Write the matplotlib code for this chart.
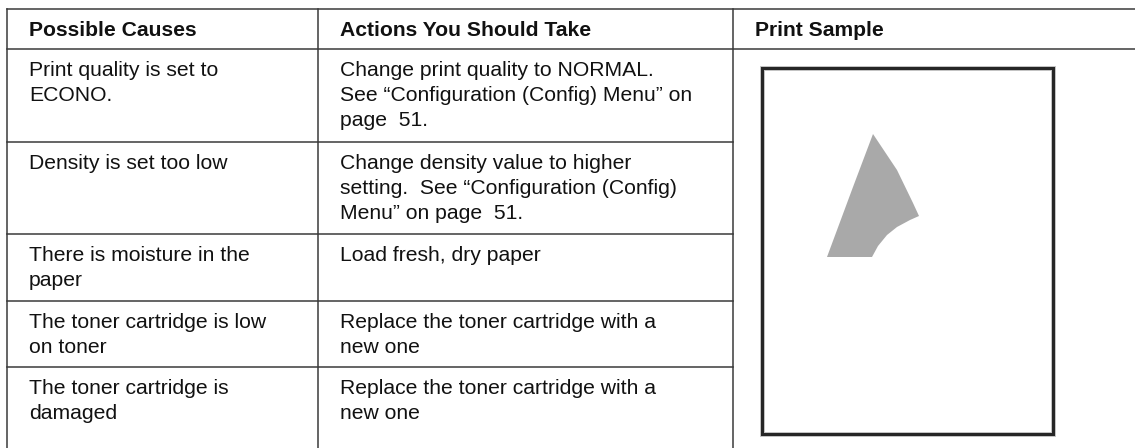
import matplotlib.pyplot as plt
from matplotlib.patches import Rectangle, Polygon

plt.rcParams['font.family'] = ['Liberation Sans', 'DejaVu Sans']

# table content
headers = ['Possible Causes', 'Actions You Should Take', 'Print Sample']
causes = [
    ['Print quality is set to', 'ECONO.'],
    ['Density is set too low'],
    ['There is moisture in the', 'paper'],
    ['The toner cartridge is low', 'on toner'],
    ['The toner cartridge is', 'damaged'],
]
actions = [
    ['Change print quality to NORMAL.', 'See \u201cConfiguration (Config) Menu\u201d on', 'page  51.'],
    ['Change density value to higher', 'setting.  See \u201cConfiguration (Config)', 'Menu\u201d on page  51.'],
    ['Load fresh, dry paper'],
    ['Replace the toner cartridge with a', 'new one'],
    ['Replace the toner cartridge with a', 'new one'],
]

# layout in pixels
W, H = 1135, 448
col_x = [7, 318, 733]
header_top, header_bot = 9, 49
row_tops = [49, 142, 234, 301, 367]
pad_x = 22
first_base = 27
line_gap = 25

# faded print sample outline (pixels)
blob_x = [873, 897, 913, 919, 910, 897, 887, 878, 872, 827, 853]
blob_y = [134, 170, 203, 216, 220, 227, 235, 246, 257, 257, 187]
sample_box = (762, 68, 1053, 434)

fig = plt.figure(figsize=(W / 100, H / 100), dpi=100)
ax = fig.add_axes([0, 0, 1, 1])
ax.set_xlim(0, W)
ax.set_ylim(H, 0)
ax.axis('off')

lc = '#3a3a3a'
lw = 1.1
ax.plot([col_x[0], W], [header_top, header_top], color=lc, lw=lw)
ax.plot([col_x[0], W], [header_bot, header_bot], color=lc, lw=lw)
for x in col_x:
    ax.plot([x, x], [header_top, H], color=lc, lw=lw)
for y in row_tops[1:]:
    ax.plot([col_x[0], col_x[2]], [y, y], color=lc, lw=lw)

fs = 15.2
for x, h in zip(col_x, headers):
    ax.text(x + pad_x, 36, h, fontsize=fs, fontweight='bold', va='baseline', ha='left', color='#111111')

for top, c_lines, a_lines in zip(row_tops, causes, actions):
    for i, t in enumerate(c_lines):
        ax.text(col_x[0] + pad_x, top + first_base + i * line_gap, t, fontsize=fs,
                va='baseline', ha='left', color='#111111')
    for i, t in enumerate(a_lines):
        ax.text(col_x[1] + pad_x, top + first_base + i * line_gap, t, fontsize=fs,
                va='baseline', ha='left', color='#111111')

# sample page frame with faint halo
x0, y0, x1, y1 = sample_box
ax.add_patch(Rectangle((x0, y0), x1 - x0, y1 - y0, fill=False, edgecolor='#c8c8c8', lw=3.6))
ax.add_patch(Rectangle((x0, y0), x1 - x0, y1 - y0, fill=False, edgecolor='#262626', lw=2.2))

# faded patch
ax.add_patch(Polygon(list(zip(blob_x, blob_y)), closed=True, facecolor='#a9a9a9', edgecolor='none'))

fig.savefig('out.png', dpi=100)
